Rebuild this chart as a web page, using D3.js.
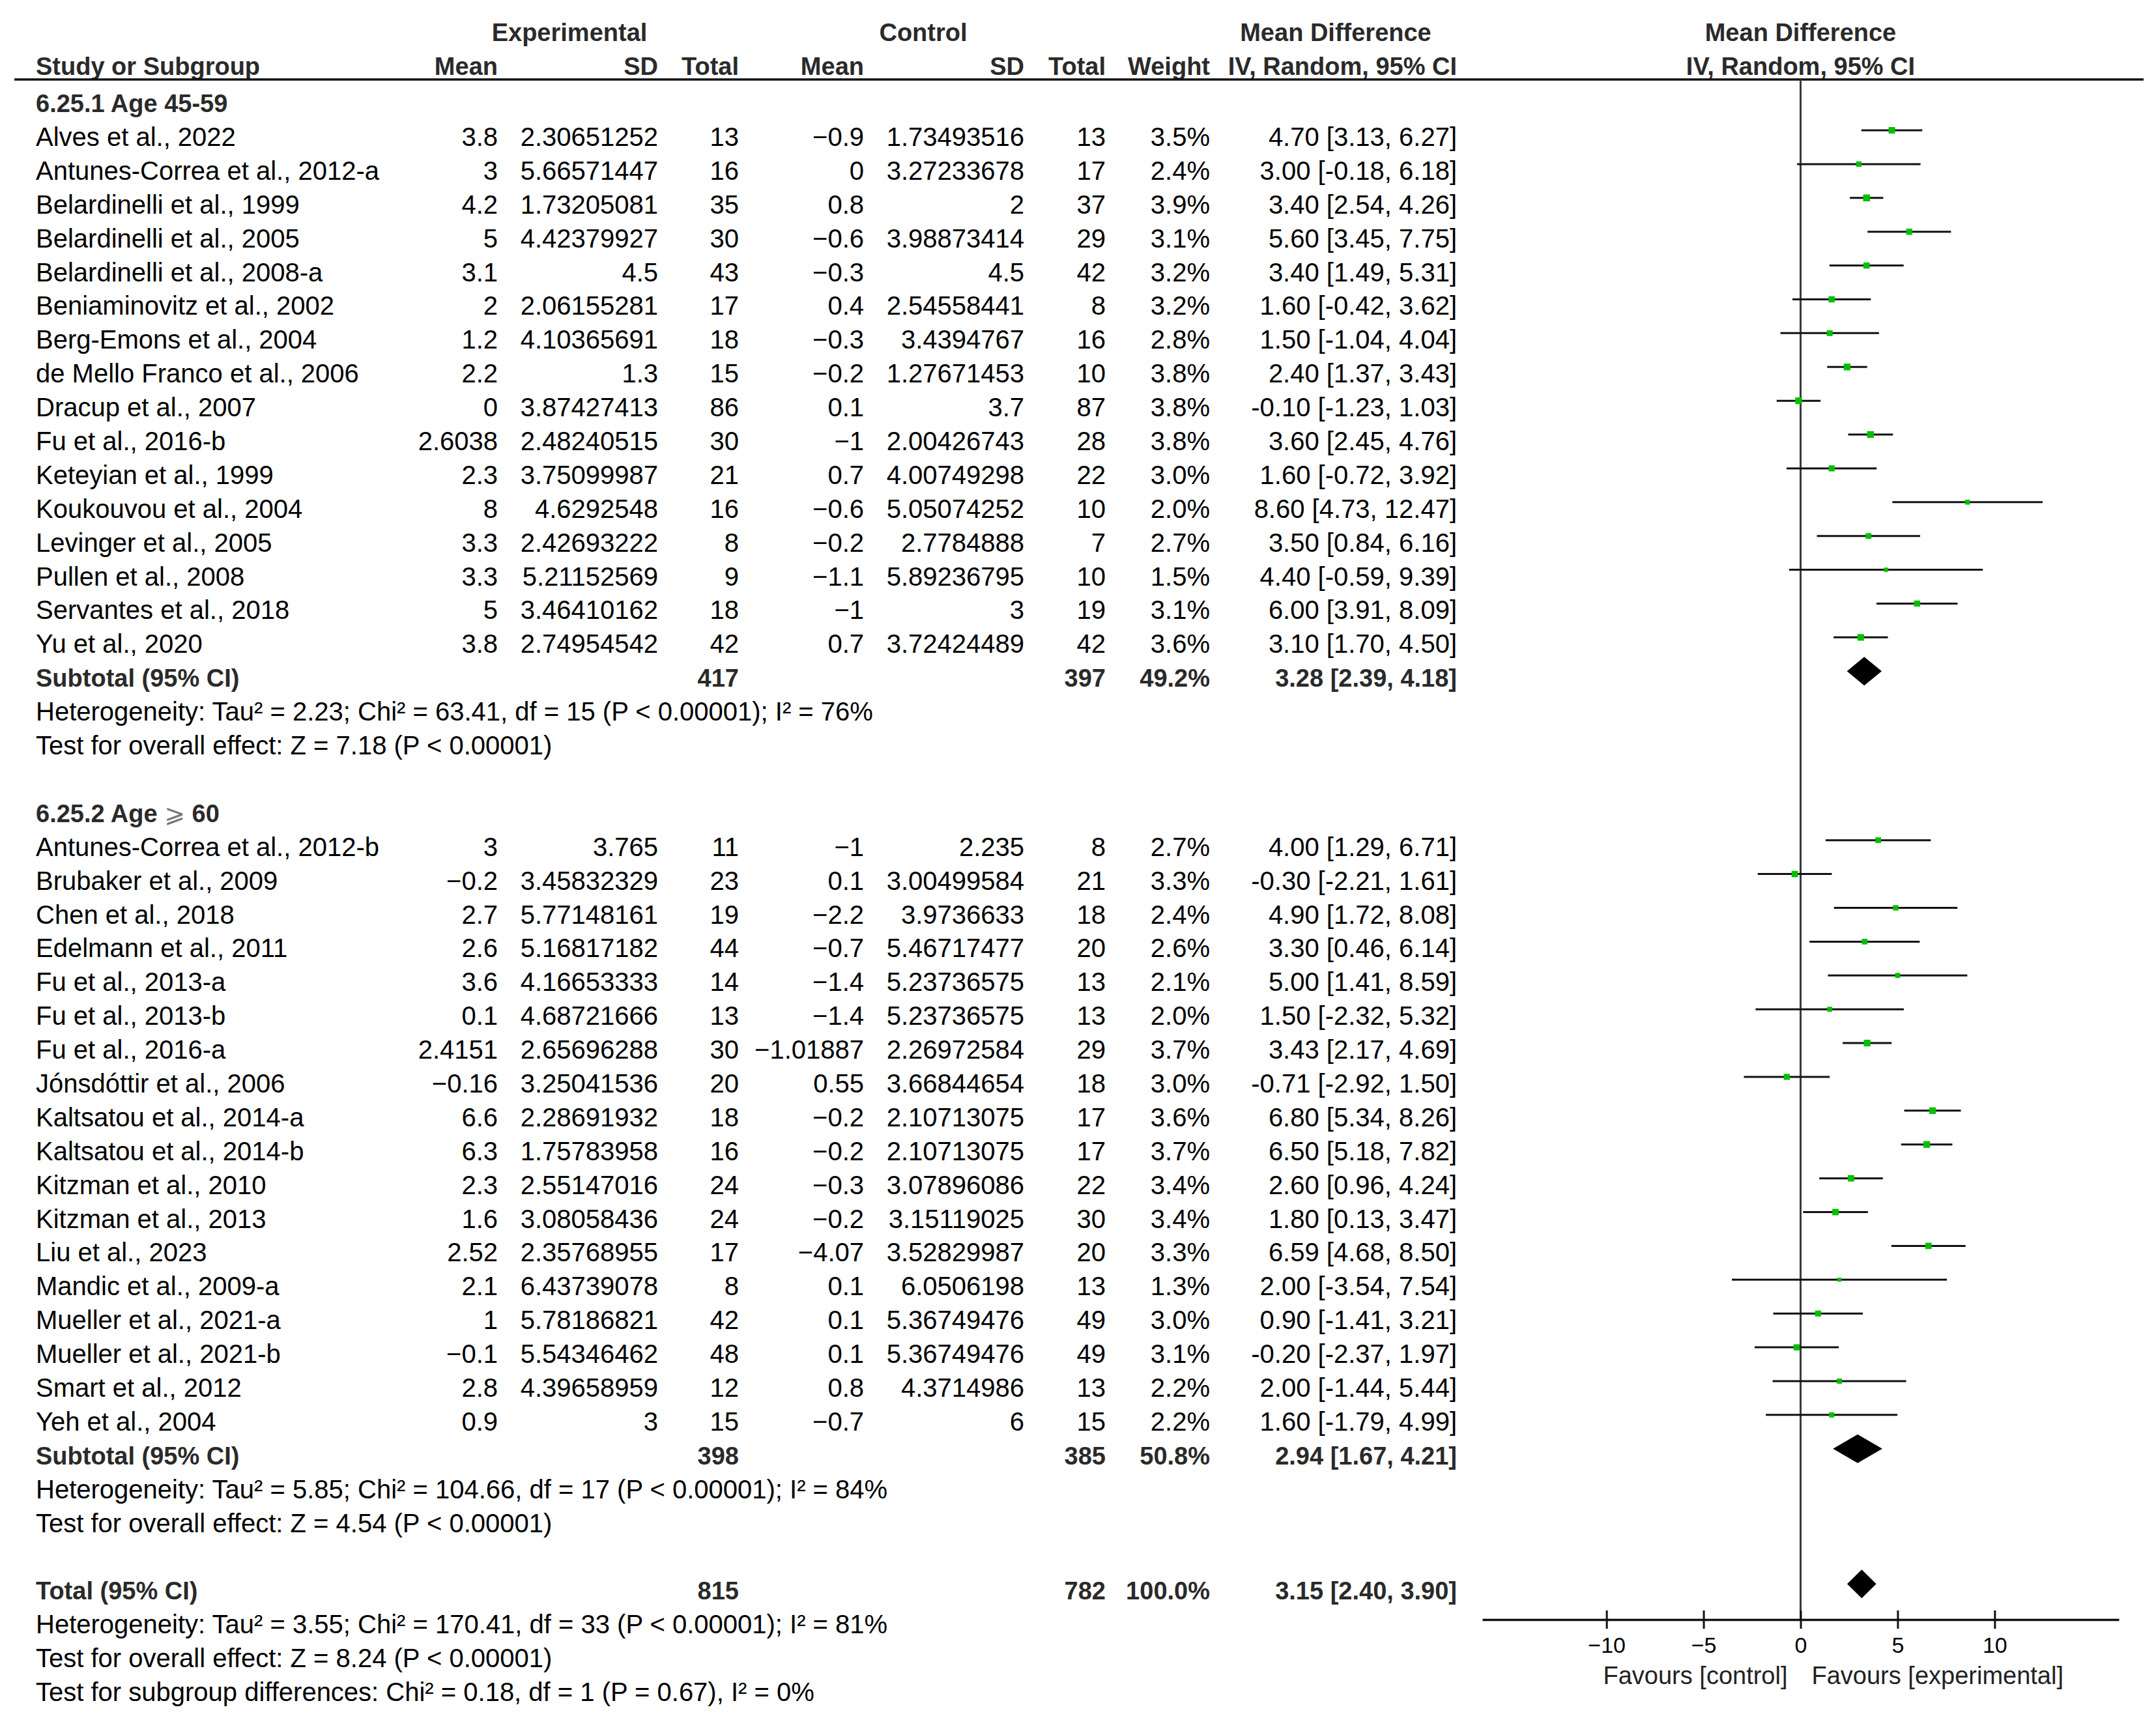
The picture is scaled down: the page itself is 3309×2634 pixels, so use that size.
<!DOCTYPE html>
<html>
<head>
<meta charset="utf-8">
<script src="https://cdn.jsdelivr.net/npm/d3@7"></script>
<style>
  body { margin: 0; background: #fff; }
  text { font-family: "Liberation Sans", Arial, "DejaVu Sans", sans-serif; }
</style>
</head>
<body>
<div id="chart"></div>
<script>
// ---- data: subgroup 6.25.1 Age 45-59
const g1Study = ["Alves et al., 2022", "Antunes-Correa et al., 2012-a", "Belardinelli et al., 1999",
  "Belardinelli et al., 2005", "Belardinelli et al., 2008-a", "Beniaminovitz et al., 2002",
  "Berg-Emons et al., 2004", "de Mello Franco et al., 2006", "Dracup et al., 2007", "Fu et al., 2016-b",
  "Keteyian et al., 1999", "Koukouvou et al., 2004", "Levinger et al., 2005", "Pullen et al., 2008",
  "Servantes et al., 2018", "Yu et al., 2020"];
const g1ExpMean = [3.8, 3, 4.2, 5, 3.1, 2, 1.2, 2.2, 0, 2.6038, 2.3, 8, 3.3, 3.3, 5, 3.8];
const g1ExpSD = [2.30651252, 5.66571447, 1.73205081, 4.42379927, 4.5, 2.06155281, 4.10365691, 1.3,
  3.87427413, 2.48240515, 3.75099987, 4.6292548, 2.42693222, 5.21152569, 3.46410162, 2.74954542];
const g1ExpN = [13, 16, 35, 30, 43, 17, 18, 15, 86, 30, 21, 16, 8, 9, 18, 42];
const g1CtlMean = [-0.9, 0, 0.8, -0.6, -0.3, 0.4, -0.3, -0.2, 0.1, -1, 0.7, -0.6, -0.2, -1.1, -1, 0.7];
const g1CtlSD = [1.73493516, 3.27233678, 2, 3.98873414, 4.5, 2.54558441, 3.4394767, 1.27671453,
  3.7, 2.00426743, 4.00749298, 5.05074252, 2.7784888, 5.89236795, 3, 3.72424489];
const g1CtlN = [13, 17, 37, 29, 42, 8, 16, 10, 87, 28, 22, 10, 7, 10, 19, 42];
const g1Weight = [3.5, 2.4, 3.9, 3.1, 3.2, 3.2, 2.8, 3.8, 3.8, 3.8, 3.0, 2.0, 2.7, 1.5, 3.1, 3.6];
const g1MD = [4.70, 3.00, 3.40, 5.60, 3.40, 1.60, 1.50, 2.40, -0.10, 3.60, 1.60, 8.60, 3.50, 4.40, 6.00, 3.10];
const g1Lo = [3.13, -0.18, 2.54, 3.45, 1.49, -0.42, -1.04, 1.37, -1.23, 2.45, -0.72, 4.73, 0.84, -0.59, 3.91, 1.70];
const g1Hi = [6.27, 6.18, 4.26, 7.75, 5.31, 3.62, 4.04, 3.43, 1.03, 4.76, 3.92, 12.47, 6.16, 9.39, 8.09, 4.50];

// ---- data: subgroup 6.25.2 Age >= 60
const g2Study = ["Antunes-Correa et al., 2012-b", "Brubaker et al., 2009", "Chen et al., 2018",
  "Edelmann et al., 2011", "Fu et al., 2013-a", "Fu et al., 2013-b", "Fu et al., 2016-a",
  "Jónsdóttir et al., 2006", "Kaltsatou et al., 2014-a", "Kaltsatou et al., 2014-b", "Kitzman et al., 2010",
  "Kitzman et al., 2013", "Liu et al., 2023", "Mandic et al., 2009-a", "Mueller et al., 2021-a",
  "Mueller et al., 2021-b", "Smart et al., 2012", "Yeh et al., 2004"];
const g2ExpMean = [3, -0.2, 2.7, 2.6, 3.6, 0.1, 2.4151, -0.16, 6.6, 6.3, 2.3, 1.6, 2.52, 2.1, 1, -0.1, 2.8, 0.9];
const g2ExpSD = [3.765, 3.45832329, 5.77148161, 5.16817182, 4.16653333, 4.68721666, 2.65696288, 3.25041536,
  2.28691932, 1.75783958, 2.55147016, 3.08058436, 2.35768955, 6.43739078, 5.78186821, 5.54346462, 4.39658959, 3];
const g2ExpN = [11, 23, 19, 44, 14, 13, 30, 20, 18, 16, 24, 24, 17, 8, 42, 48, 12, 15];
const g2CtlMean = [-1, 0.1, -2.2, -0.7, -1.4, -1.4, -1.01887, 0.55, -0.2, -0.2, -0.3, -0.2, -4.07, 0.1, 0.1, 0.1, 0.8, -0.7];
const g2CtlSD = [2.235, 3.00499584, 3.9736633, 5.46717477, 5.23736575, 5.23736575, 2.26972584, 3.66844654,
  2.10713075, 2.10713075, 3.07896086, 3.15119025, 3.52829987, 6.0506198, 5.36749476, 5.36749476, 4.3714986, 6];
const g2CtlN = [8, 21, 18, 20, 13, 13, 29, 18, 17, 17, 22, 30, 20, 13, 49, 49, 13, 15];
const g2Weight = [2.7, 3.3, 2.4, 2.6, 2.1, 2.0, 3.7, 3.0, 3.6, 3.7, 3.4, 3.4, 3.3, 1.3, 3.0, 3.1, 2.2, 2.2];
const g2MD = [4.00, -0.30, 4.90, 3.30, 5.00, 1.50, 3.43, -0.71, 6.80, 6.50, 2.60, 1.80, 6.59, 2.00, 0.90, -0.20, 2.00, 1.60];
const g2Lo = [1.29, -2.21, 1.72, 0.46, 1.41, -2.32, 2.17, -2.92, 5.34, 5.18, 0.96, 0.13, 4.68, -3.54, -1.41, -2.37, -1.44, -1.79];
const g2Hi = [6.71, 1.61, 8.08, 6.14, 8.59, 5.32, 4.69, 1.50, 8.26, 7.82, 4.24, 3.47, 8.50, 7.54, 3.21, 1.97, 5.44, 4.99];

// ---- pooled results: subtotal 1, subtotal 2, total
const poolLabel = ["Subtotal (95% CI)", "Subtotal (95% CI)", "Total (95% CI)"];
const poolExpN = [417, 398, 815];
const poolCtlN = [397, 385, 782];
const poolWeight = [49.2, 50.8, 100.0];
const poolMD = [3.28, 2.94, 3.15];
const poolLo = [2.39, 1.67, 2.40];
const poolHi = [4.18, 4.21, 3.90];

const axisTicks = [-10, -5, 0, 5, 10];

const W = 3309, H = 2634;
const svg = d3.select("#chart").append("svg")
  .attr("width", W).attr("height", H)
  .style("background", "#fff");

// row index -> text baseline
const rowY = d3.scaleLinear().domain([3, 49]).range([224, 2611]);
const markUp = 24;           // marks sit a bit above the baseline
const x = d3.scaleLinear().domain([-16.4, 16.4]).range([2275, 3252]);
const box = d3.scaleSqrt().domain([0, 3.9]).range([0, 10.5]);

const col = { study: 55, eMean: 764, eSD: 1010, eN: 1134, cMean: 1326, cSD: 1572, cN: 1697, w: 1857, ci: 2236 };
const FS = 40, FB = 38;

const minus = v => String(v).replace("-", "\u2212");
const f2 = v => v.toFixed(2);
const ciText = (m, l, h) => `${f2(m)} [${f2(l)}, ${f2(h)}]`;

function txt(xp, y, s, opt = {}) {
  return svg.append("text")
    .attr("x", xp).attr("y", y)
    .attr("text-anchor", opt.anchor || "start")
    .attr("font-size", opt.bold ? FB : (opt.size || FS))
    .attr("font-weight", opt.bold ? "bold" : "normal")
    .attr("fill", opt.bold ? "#2a2a2a" : "#000")
    .text(s);
}

// ---- header
txt(874, 63, "Experimental", { bold: true, anchor: "middle" });
txt(1417, 63, "Control", { bold: true, anchor: "middle" });
txt(2050, 63, "Mean Difference", { bold: true, anchor: "middle" });
txt(x(0), 63, "Mean Difference", { bold: true, anchor: "middle" });
txt(col.study, 115, "Study or Subgroup", { bold: true });
txt(col.eMean, 115, "Mean", { bold: true, anchor: "end" });
txt(col.eSD, 115, "SD", { bold: true, anchor: "end" });
txt(col.eN, 115, "Total", { bold: true, anchor: "end" });
txt(col.cMean, 115, "Mean", { bold: true, anchor: "end" });
txt(col.cSD, 115, "SD", { bold: true, anchor: "end" });
txt(col.cN, 115, "Total", { bold: true, anchor: "end" });
txt(col.w, 115, "Weight", { bold: true, anchor: "end" });
txt(col.ci, 115, "IV, Random, 95% CI", { bold: true, anchor: "end" });
txt(x(0), 115, "IV, Random, 95% CI", { bold: true, anchor: "middle" });

svg.append("line")
  .attr("x1", 22).attr("x2", 3290).attr("y1", 122).attr("y2", 122)
  .attr("stroke", "#111").attr("stroke-width", 3.5);

// zero line
svg.append("line")
  .attr("x1", x(0)).attr("x2", x(0)).attr("y1", 122).attr("y2", 2486)
  .attr("stroke", "#3a3a3a").attr("stroke-width", 3);

// ---- study rows
function drawGroup(startRow, study, em, esd, en, cm, csd, cn, w, md, lo, hi) {
  const data = study.map((s, i) => ({ s, em: em[i], esd: esd[i], en: en[i], cm: cm[i], csd: csd[i],
    cn: cn[i], w: w[i], md: md[i], lo: lo[i], hi: hi[i], row: startRow + i }));
  data.forEach(d => {
    const y = rowY(d.row);
    txt(col.study, y, d.s);
    txt(col.eMean, y, minus(d.em), { anchor: "end" });
    txt(col.eSD, y, d.esd, { anchor: "end" });
    txt(col.eN, y, d.en, { anchor: "end" });
    txt(col.cMean, y, minus(d.cm), { anchor: "end" });
    txt(col.cSD, y, d.csd, { anchor: "end" });
    txt(col.cN, y, d.cn, { anchor: "end" });
    txt(col.w, y, d.w.toFixed(1) + "%", { anchor: "end" });
    txt(col.ci, y, ciText(d.md, d.lo, d.hi), { anchor: "end" });
  });
  const g = svg.append("g");
  g.selectAll("line.ci").data(data).join("line")
    .attr("class", "ci")
    .attr("x1", d => x(d.lo)).attr("x2", d => x(d.hi))
    .attr("y1", d => rowY(d.row) - markUp).attr("y2", d => rowY(d.row) - markUp)
    .attr("stroke", "#111").attr("stroke-width", 3);
  g.selectAll("rect").data(data).join("rect")
    .attr("x", d => x(d.md) - box(d.w) / 2)
    .attr("y", d => rowY(d.row) - markUp - box(d.w) / 2)
    .attr("width", d => box(d.w)).attr("height", d => box(d.w))
    .attr("fill", "#00c000");
}

function drawPool(i, row) {
  const y = rowY(row);
  txt(col.study, y, poolLabel[i], { bold: true });
  txt(col.eN, y, poolExpN[i], { bold: true, anchor: "end" });
  txt(col.cN, y, poolCtlN[i], { bold: true, anchor: "end" });
  txt(col.w, y, poolWeight[i].toFixed(1) + "%", { bold: true, anchor: "end" });
  txt(col.ci, y, ciText(poolMD[i], poolLo[i], poolHi[i]), { bold: true, anchor: "end" });
  const cy = y - markUp, hh = 22;
  svg.append("path")
    .attr("d", `M${x(poolLo[i])},${cy} L${x(poolMD[i])},${cy - hh} L${x(poolHi[i])},${cy} L${x(poolMD[i])},${cy + hh} Z`)
    .attr("fill", "#000");
}

// subgroup 1
txt(col.study, rowY(2), "6.25.1 Age 45-59", { bold: true });
drawGroup(3, g1Study, g1ExpMean, g1ExpSD, g1ExpN, g1CtlMean, g1CtlSD, g1CtlN, g1Weight, g1MD, g1Lo, g1Hi);
drawPool(0, 19);
txt(col.study, rowY(20), "Heterogeneity: Tau\u00b2 = 2.23; Chi\u00b2 = 63.41, df = 15 (P < 0.00001); I\u00b2 = 76%");
txt(col.study, rowY(21), "Test for overall effect: Z = 7.18 (P < 0.00001)");

// subgroup 2
const lab2 = txt(col.study, rowY(23), "6.25.2 Age ", { bold: true });
lab2.append("tspan").attr("font-weight", "normal").attr("fill", "#777").text("\u2a7e");
lab2.append("tspan").text(" 60");
drawGroup(24, g2Study, g2ExpMean, g2ExpSD, g2ExpN, g2CtlMean, g2CtlSD, g2CtlN, g2Weight, g2MD, g2Lo, g2Hi);
drawPool(1, 42);
txt(col.study, rowY(43), "Heterogeneity: Tau\u00b2 = 5.85; Chi\u00b2 = 104.66, df = 17 (P < 0.00001); I\u00b2 = 84%");
txt(col.study, rowY(44), "Test for overall effect: Z = 4.54 (P < 0.00001)");

// total
drawPool(2, 46);
txt(col.study, rowY(47), "Heterogeneity: Tau\u00b2 = 3.55; Chi\u00b2 = 170.41, df = 33 (P < 0.00001); I\u00b2 = 81%");
txt(col.study, rowY(48), "Test for overall effect: Z = 8.24 (P < 0.00001)");
txt(col.study, rowY(49), "Test for subgroup differences: Chi\u00b2 = 0.18, df = 1 (P = 0.67), I\u00b2 = 0%");

// ---- x axis
const axisY = 2486;
const ax = svg.append("g")
  .attr("transform", `translate(0,${axisY})`)
  .call(d3.axisBottom(x).tickValues(axisTicks).tickSizeInner(14).tickSizeOuter(0).tickPadding(13));
ax.select(".domain").attr("stroke", "#111").attr("stroke-width", 3.5);
ax.selectAll(".tick line").attr("y1", -14).attr("stroke", "#111").attr("stroke-width", 3);
ax.selectAll(".tick text")
  .attr("font-size", 34).attr("fill", "#000")
  .style("font-family", '"Liberation Sans", Arial, sans-serif');

txt(x(0) - 20, 2585, "Favours [control]", { anchor: "end", size: 38 }).attr("fill", "#222");
txt(x(0) + 17, 2585, "Favours [experimental]", { size: 38 }).attr("fill", "#222");
</script>
</body>
</html>
